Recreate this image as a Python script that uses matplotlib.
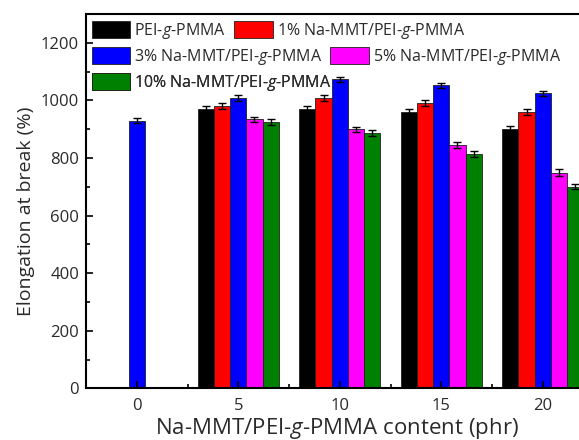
import matplotlib
matplotlib.use("Agg")
import matplotlib.pyplot as plt
from matplotlib.patches import Patch
from matplotlib.ticker import MultipleLocator

plt.rcParams['font.family'] = ['Open Sans', 'DejaVu Sans']
plt.rcParams['mathtext.fontset'] = 'custom'
plt.rcParams['mathtext.it'] = 'Open Sans:italic'
plt.rcParams['mathtext.rm'] = 'Open Sans'

contents = [5, 10, 15, 20]
series_labels = ["PEI-$\\it{g}$-PMMA",
                 "1% Na-MMT/PEI-$\\it{g}$-PMMA",
                 "3% Na-MMT/PEI-$\\it{g}$-PMMA",
                 "5% Na-MMT/PEI-$\\it{g}$-PMMA",
                 "10% Na-MMT/PEI-$\\it{g}$-PMMA"]
colors = ["#000000", "#ff0000", "#0000ff", "#ff00ff", "#008000"]
values = [
    [969, 969, 960, 901],
    [981, 1009, 990, 959],
    [1007, 1073, 1052, 1024],
    [934, 899, 845, 749],
    [926, 887, 815, 700],
]
errors = [
    [10, 10, 10, 11],
    [10, 10, 10, 10],
    [10, 9, 10, 8],
    [10, 10, 9, 12],
    [10, 10, 10, 9],
]
zero_content = 0
zero_value = 929
zero_error = 9
xticks = [0, 5, 10, 15, 20]

TXT = '#2a2a2a'

fig = plt.figure(figsize=(5.79, 4.40), dpi=100)
ax = fig.add_axes([86/579, 1 - 388.3/440, 507.5/579, 374.3/440])

w = 0.8
offsets = [-2*w, -w, 0, w, 2*w]
ekw = dict(ecolor='black', elinewidth=1.0, capsize=3, capthick=1.0)
ax.bar([zero_content], [zero_value], width=w, color=colors[2], edgecolor='#202020',
       linewidth=0.6, yerr=[zero_error], error_kw=ekw)
for i in range(5):
    xs = [c + offsets[i] for c in contents]
    ax.bar(xs, values[i], width=w, color=colors[i], edgecolor='#202020',
           linewidth=0.6, yerr=errors[i], error_kw=ekw)

ax.set_xlim(-2.5, 22.5)
ax.set_ylim(0, 1300)
ax.set_xticks(xticks)
ax.xaxis.set_minor_locator(MultipleLocator(2.5))
ax.yaxis.set_major_locator(MultipleLocator(200))
ax.yaxis.set_minor_locator(MultipleLocator(100))
ax.tick_params(which='both', direction='in', width=1.2, labelsize=12, colors='black', labelcolor=TXT)
ax.tick_params(which='major', length=5)
ax.tick_params(which='minor', length=3)
ax.tick_params(axis='y', which='both', right=False, pad=5)
ax.tick_params(axis='x', which='both', top=False, pad=7)
for s in ax.spines.values():
    s.set_linewidth(1.5)
    s.set_color('black')

ax.set_xlabel("Na-MMT/PEI-$\\it{g}$-PMMA content (phr)", fontsize=16, color=TXT)
ax.xaxis.set_label_coords(0.4946, -0.075)
ax.set_ylabel("Elongation at break (%)", fontsize=14, color=TXT)
ax.yaxis.set_label_coords(-0.1, 0.474)

rows = [[0, 1], [2, 3], [4]]
row_y = [21, 47, 73]
for r, ypix in zip(rows, row_y):
    handles = [Patch(facecolor=colors[i], edgecolor='#202020', linewidth=0.6) for i in r]
    labels = [series_labels[i] for i in r]
    leg = ax.legend(handles, labels, loc='upper left', ncol=len(r),
                    bbox_to_anchor=(92/579, 1 - ypix/440), bbox_transform=fig.transFigure,
                    frameon=False, fontsize=11.5, borderpad=0, borderaxespad=0,
                    handlelength=2.4, handleheight=1.25, handletextpad=0.25,
                    columnspacing=0.5, labelcolor=TXT)
    ax.add_artist(leg)

fig.savefig("out.png", dpi=100)
